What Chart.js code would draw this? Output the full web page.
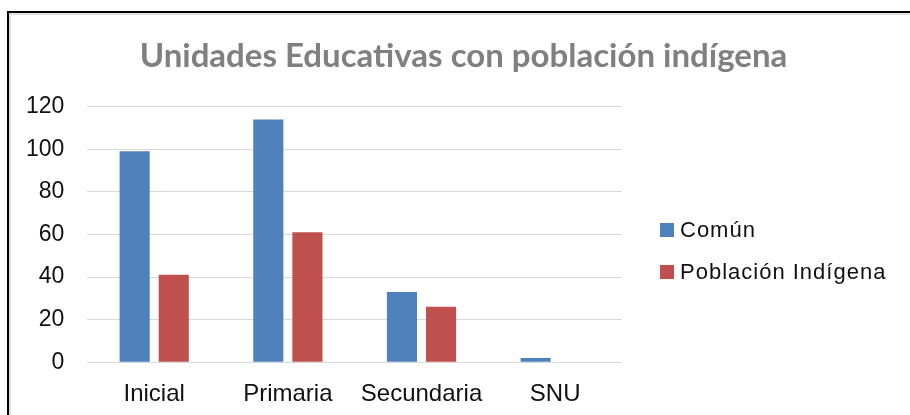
<!DOCTYPE html>
<html>
<head>
<meta charset="utf-8">
<script src="https://cdn.jsdelivr.net/npm/chart.js@4.4.1/dist/chart.umd.min.js"></script>
<style>
  html, body { margin: 0; padding: 0; background: #fff; overflow: hidden; }
  #wrap { position: relative; width: 910px; height: 415px; overflow: hidden; }
  #frame {
    position: absolute; left: 7px; top: 11px; width: 920px; height: 420px;
    border: 2px solid #000; box-sizing: border-box; pointer-events: none;
    box-shadow: inset 2px 2px 0 #e2e2e2;
  }
  .legend { position: absolute; left: 660px; top: 218px; font: 22px 'Liberation Sans', Arial, sans-serif; letter-spacing: 1px; color: #111; }
  .legend__item { display: flex; align-items: center; height: 24px; margin-bottom: 18px; white-space: nowrap; }
  .legend__box { width: 14px; height: 14px; margin-right: 6px; }
</style>
</head>
<body>
<div id="wrap">
  <canvas id="chart" width="910" height="415"></canvas>
  <div class="legend" id="legend"></div>
  <div id="frame"></div>
</div>
<script>
const categories = ['Inicial', 'Primaria', 'Secundaria', 'SNU'];
const comun = [99, 114, 33, 2];
const indigena = [41, 61, 26, 0];
const seriesNames = ['Común', 'Población Indígena'];
const seriesColors = ['#4F81BD', '#C0504D'];
const yTicks = [0, 20, 40, 60, 80, 100, 120];

const ctx = document.getElementById('chart').getContext('2d');

const data = {
  labels: categories,
  datasets: [
    {
      label: seriesNames[0],
      data: comun,
      backgroundColor: seriesColors[0],
      borderWidth: 0
    },
    {
      label: seriesNames[1],
      data: indigena,
      backgroundColor: seriesColors[1],
      borderWidth: 0
    }
  ]
};

const config = {
  type: 'bar',
  data: data,
  options: {
    responsive: false,
    animation: false,
    categoryPercentage: 0.585,
    barPercentage: 0.77,
    layout: { autoPadding: false, padding: { left: 26, right: 9, top: 0, bottom: 6 } },
    plugins: {
      title: {
        display: true,
        text: 'Unidades Educativas con población indígena',
        color: '#808080',
        font: { family: 'Lato', weight: 'bold', size: 33 },
        padding: { top: 37, bottom: 30 }
      },
      legend: { display: false },
      tooltip: { enabled: false }
    },
    scales: {
      x: {
        grid: { display: false, drawTicks: false },
        border: { display: false },
        ticks: { color: '#111', font: { family: 'Liberation Sans', size: 24 }, padding: 18 },
        // padding is counted on both sides of the labels, keep only one
        afterFit: (scale) => { scale.height -= scale.options.ticks.padding; }
      },
      y: {
        min: 0,
        max: yTicks[yTicks.length - 1],
        grid: { color: '#D9D9D9', lineWidth: 1, drawTicks: false },
        border: { display: false },
        afterBuildTicks: (scale) => { scale.ticks = yTicks.map(v => ({ value: v })); },
        ticks: { color: '#111', font: { family: 'Liberation Sans', size: 23 }, padding: 23 },
        afterFit: (scale) => { scale.width -= scale.options.ticks.padding; }
      },
      // empty space on the right where the legend sits
      gap: {
        type: 'linear',
        position: 'right',
        display: true,
        grid: { display: false, drawTicks: false },
        border: { display: false },
        ticks: { display: false },
        afterFit: (scale) => { scale.width = 279; }
      }
    }
  }
};

const myChart = new Chart(ctx, config);

// legend as html
const legend = document.getElementById('legend');
data.datasets.forEach((ds) => {
  const item = document.createElement('div');
  item.className = 'legend__item';
  const box = document.createElement('span');
  box.className = 'legend__box';
  box.style.background = ds.backgroundColor;
  const text = document.createElement('span');
  text.textContent = ds.label;
  item.appendChild(box);
  item.appendChild(text);
  legend.appendChild(item);
});
</script>
</body>
</html>
